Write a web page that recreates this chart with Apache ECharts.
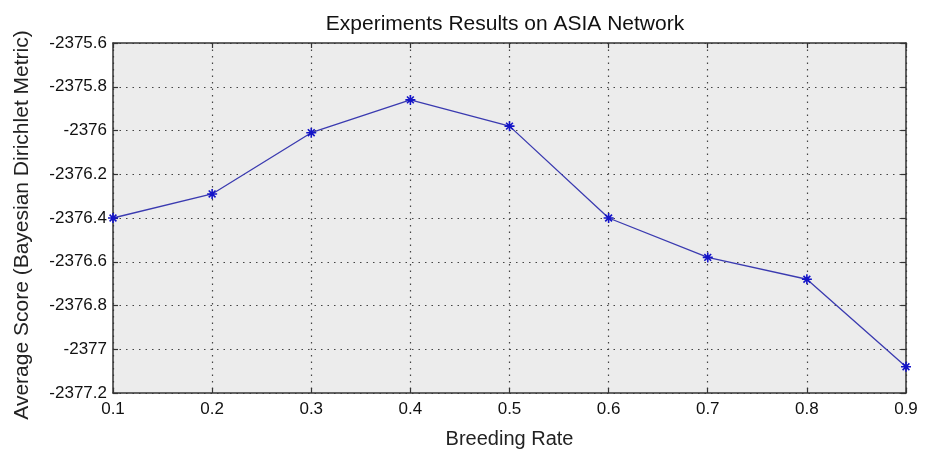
<!DOCTYPE html>
<html>
<head>
<meta charset="utf-8">
<script src="https://cdn.jsdelivr.net/npm/echarts@6/dist/echarts.min.js"></script>
<style>html,body{margin:0;padding:0;background:#fff;}#c{width:928px;height:451px;}</style>
</head>
<body>
<div id="c"></div>
<script>
const breedingRate = [0.1, 0.2, 0.3, 0.4, 0.5, 0.6, 0.7, 0.8, 0.9];
const avgScore = [-2376.40, -2376.29, -2376.01, -2375.86, -2375.98, -2376.40, -2376.58, -2376.68, -2377.08];
const titleText = 'Experiments Results on ASIA Network';
const xName = 'Breeding Rate';
const yName = 'Average Score (Bayesian Dirichlet Metric)';

const font = 'Liberation Sans, Arial, sans-serif';
const chart = echarts.init(document.getElementById('c'));
const star = 'path://M0 5 L10 5 M5 0 L5 10 M1.6 1.6 L8.4 8.4 M8.4 1.6 L1.6 8.4';
const fmt = v => (Math.round(v * 10) / 10).toString();
const axisLine = {show: true, lineStyle: {color: '#333', width: 1.5}};
const tick = {show: true, inside: true, length: 5, lineStyle: {color: '#333', width: 1.2}};
chart.setOption({
  animation: false,
  backgroundColor: '#fff',
  title: {
    text: titleText, left: 500, top: 9, textAlign: 'center',
    textStyle: {fontFamily: font, fontSize: 21, fontWeight: 'normal', color: '#111'}
  },
  grid: {left: 113, right: 22, top: 43, bottom: 58, show: true, backgroundColor: '#ececec', borderWidth: 0,
         containLabel: false, outerBoundsMode: 'none'},
  xAxis: [{
    type: 'value', min: 0.1, max: 0.9, interval: 0.1,
    name: xName, nameLocation: 'middle', nameGap: 36,
    nameTextStyle: {fontFamily: font, fontSize: 20, color: '#222'},
    axisLine: axisLine, axisTick: tick,
    axisLabel: {fontFamily: font, fontSize: 17, color: '#111', margin: 8, formatter: fmt},
    splitLine: {show: true, lineStyle: {color: '#444', type: [1.5, 5], width: 1.2}}
  }, {
    type: 'value', position: 'top', min: 0.1, max: 0.9, interval: 0.1,
    axisLine: axisLine, axisTick: tick, axisLabel: {show: false}, splitLine: {show: false}
  }],
  yAxis: [{
    type: 'value', min: -2377.2, max: -2375.6, interval: 0.2,
    name: yName, nameLocation: 'middle', nameGap: 80, nameRotate: 90,
    nameTextStyle: {fontFamily: font, fontSize: 21, color: '#222', padding: [0, 14, 0, 0]},
    axisLine: axisLine, axisTick: tick,
    axisLabel: {fontFamily: font, fontSize: 17, color: '#111', margin: 6, formatter: fmt},
    splitLine: {show: true, lineStyle: {color: '#444', type: [1.5, 5], width: 1.2}}
  }, {
    type: 'value', position: 'right', min: -2377.2, max: -2375.6, interval: 0.2,
    axisLine: axisLine, axisTick: tick, axisLabel: {show: false}, splitLine: {show: false}
  }],
  series: [{
    type: 'line',
    data: breedingRate.map((x, i) => [x, avgScore[i]]),
    lineStyle: {color: '#3a3ab0', width: 1.3},
    symbol: star, symbolSize: 10,
    itemStyle: {color: 'rgba(0,0,0,0)', borderColor: '#1414c8', borderWidth: 1.6},
    showAllSymbol: true, clip: false
  }]
});
</script>
</body>
</html>
